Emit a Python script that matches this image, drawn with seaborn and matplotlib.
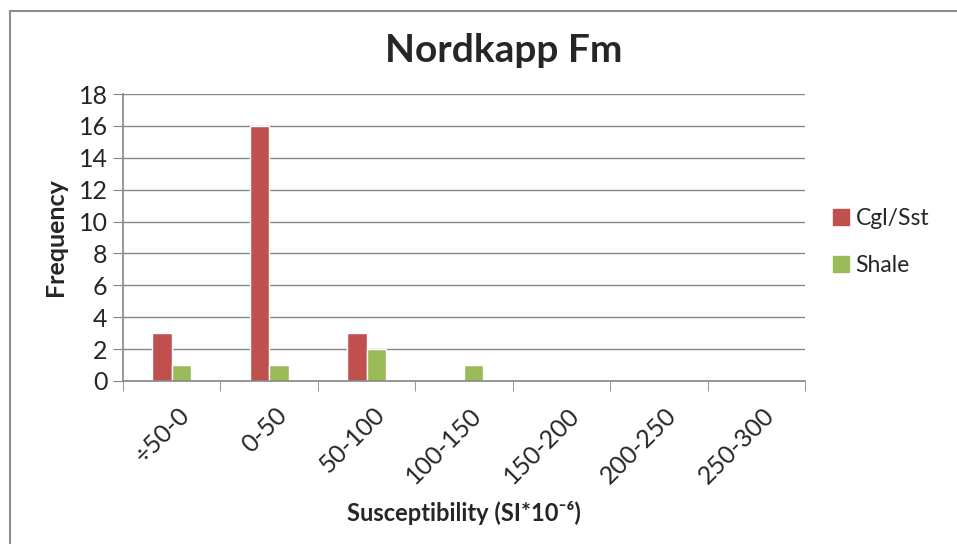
import matplotlib
matplotlib.use("Agg")
import matplotlib.pyplot as plt
from matplotlib.patches import Rectangle
from matplotlib.transforms import ScaledTranslation
import pandas as pd
import seaborn as sns

# data
bins = ["÷50-0", "0-50", "50-100", "100-150", "150-200", "200-250", "250-300"]
cgl_sst = [3, 16, 3, 0, 0, 0, 0]
shale = [1, 1, 2, 1, 0, 0, 0]
series_names = ["Cgl/Sst", "Shale"]
colors = ["#C0504D", "#9BBB59"]

df = pd.DataFrame({
    "bin": bins * 2,
    "count": cgl_sst + shale,
    "series": [series_names[0]] * len(bins) + [series_names[1]] * len(bins),
})

sns.set_style("white")
plt.rcParams["font.family"] = ["Lato", "DejaVu Sans"]

fig = plt.figure(figsize=(9.57, 5.44), dpi=100)
W, H = 957, 544
ax = fig.add_axes([123 / W, (H - 381) / H, (805 - 123) / W, (381 - 94) / H])

# outer chart frame (Excel style)
fig.patches.append(Rectangle((10 / W, -1), 2, 1 + (H - 11) / H, transform=fig.transFigure,
                             fill=False, edgecolor="#8c8c8c", linewidth=1.5))

sns.barplot(data=df, x="bin", y="count", hue="series", order=bins,
            palette=colors, width=0.4, gap=0, saturation=1, ax=ax, legend=False)

grid_col = "#868686"
ax.set_ylim(0, 18)
ax.set_yticks(range(0, 19, 2))
ax.yaxis.grid(True, color=grid_col, linewidth=1)
ax.set_axisbelow(True)
ax.set_xlim(-0.5, len(bins) - 0.5)

for s in ["top", "right"]:
    ax.spines[s].set_visible(False)
for s in ["left", "bottom"]:
    ax.spines[s].set_color(grid_col)
    ax.spines[s].set_linewidth(1.2)

ax.tick_params(axis="y", direction="out", length=7, color=grid_col, labelsize=18, pad=4, left=True)
ax.set_xticks(range(len(bins)))
ax.set_xticklabels(bins, rotation=45, ha="right", va="top", rotation_mode="anchor", fontsize=18)
ax.tick_params(axis="x", length=0, pad=16)
shift = ScaledTranslation(6 / 100, 0, fig.dpi_scale_trans)
for lbl in ax.get_xticklabels():
    lbl.set_transform(lbl.get_transform() + shift)
ax.set_xticks([i - 0.5 for i in range(len(bins) + 1)], minor=True)
ax.tick_params(axis="x", which="minor", direction="out", length=7, color=grid_col, bottom=True)

ax.set_ylabel("Frequency", fontsize=18, fontweight="bold", labelpad=8)
ax.set_xlabel("Susceptibility (SI*10⁻⁶)", fontsize=17, fontweight="bold", labelpad=10)
# title is centred on the whole chart, not on the plot area
ax.set_title("Nordkapp Fm", fontsize=28, fontweight="bold", pad=23, x=(504 - 123) / (805 - 123))

handles = [Rectangle((0, 0), 1, 1, color=c) for c in colors]
fig.legend(handles, series_names, loc="center left", bbox_to_anchor=(812 / W, 1 - 242 / H),
           frameon=False, fontsize=16.5, handlelength=0.7, handleheight=0.7,
           handletextpad=0.3, labelspacing=1.1)

fig.savefig("out.png", dpi=100)
